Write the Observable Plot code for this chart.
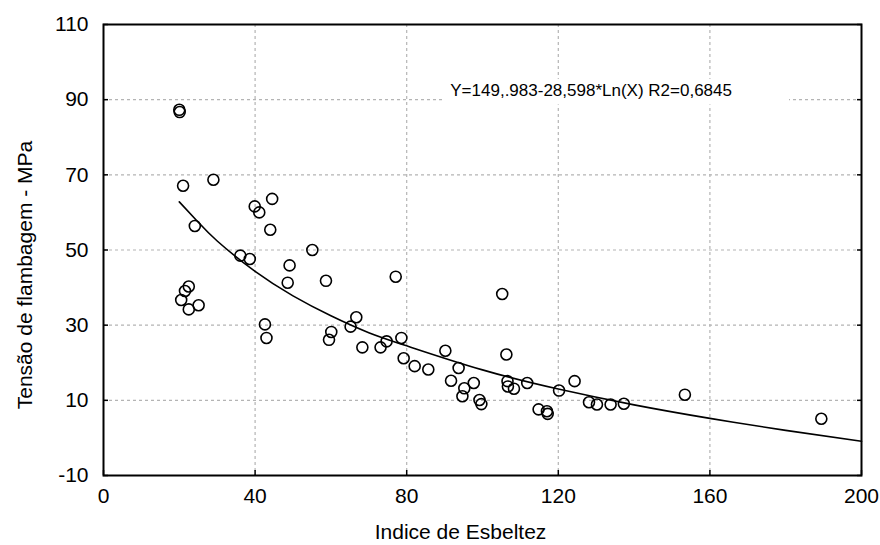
<!DOCTYPE html>
<html><head><meta charset="utf-8">
<script src="https://cdn.jsdelivr.net/npm/d3@7"></script>
<script src="https://cdn.jsdelivr.net/npm/@observablehq/plot@0.6"></script>
<style>
body{margin:0;background:#fff}
#chart svg{font-family:Arial,"Liberation Sans",sans-serif}
</style>
</head><body><div id="chart"></div>
<script>
// Scatter data: slenderness index (x) vs buckling stress in MPa (y)
const slenderness = [20.0,20.1,21.0,29.0,24.1,39.9,41.1,44.5,44.0,55.1,36.1,38.6,49.1,48.6,58.7,22.5,21.5,20.5,22.5,25.1,42.6,43.0,60.1,59.5,65.2,66.7,68.3,77.1,105.2,73.1,74.7,78.6,79.2,82.1,85.7,90.2,93.7,91.7,97.7,95.2,94.7,99.2,99.7,106.3,106.6,106.7,108.3,111.8,120.2,124.3,114.8,117.0,117.2,128.1,130.2,133.8,137.3,153.4,189.4];
const stress = [87.3,86.7,67.1,68.7,56.4,61.6,60.0,63.6,55.4,50.0,48.5,47.6,45.9,41.3,41.8,40.3,39.1,36.7,34.2,35.3,30.2,26.6,28.2,26.1,29.6,32.1,24.1,42.9,38.3,24.1,25.7,26.6,21.2,19.1,18.2,23.2,18.6,15.2,14.6,13.2,11.1,10.1,9.0,22.2,15.1,13.7,13.1,14.6,12.6,15.1,7.6,7.1,6.4,9.5,8.9,8.9,9.1,11.5,5.1];

// Fitted curve
const fitX = [20,25,30,40,50,60,70,80,100,120,140,160,180,200];
const fitY = [62.8,57.4,52.4,44.3,37.8,32.5,28.0,24.5,18.1,13.0,8.8,5.2,2.0,-0.9];

const xTicks = [0,40,80,120,160,200];
const yTicks = [-10,10,30,50,70,90,110];
const xGrid = [40,80,120,160];
const yGrid = [10,30,50,70,90];

const xTitle = "Indice de Esbeltez";
const yTitle = "Tensão de flambagem - MPa";
const equationText = "Y=149,.983-28,598*Ln(X) R2=0,6845";
const equationAnchor = [{x: 91.5, y: 92.4}];
const equationBox = [{x1: 90, x2: 181, y1: 88.6, y2: 95.4}];

const points = slenderness.map((x, i) => ({x, y: stress[i]}));
const fit = fitX.map((x, i) => ({x, y: fitY[i]}));

const chart = Plot.plot({
  width: 880,
  height: 545,
  marginLeft: 103,
  marginRight: 19,
  marginTop: 24,
  marginBottom: 70,
  style: {fontSize: "21px", fontFamily: "Arial, 'Liberation Sans', sans-serif", color: "#000", background: "#fff"},
  x: {domain: [0, 200]},
  y: {domain: [-10, 110]},
  marks: [
    Plot.ruleX(xGrid, {stroke: "#b4b4b4", strokeDasharray: "3,3", strokeWidth: 1.2}),
    Plot.ruleY(yGrid, {stroke: "#b4b4b4", strokeDasharray: "3,3", strokeWidth: 1.2}),
    Plot.rect(equationBox, {x1: "x1", x2: "x2", y1: "y1", y2: "y2", fill: "white"}),
    Plot.text(equationAnchor, {x: "x", y: "y", text: () => equationText, textAnchor: "start", fontSize: 17, fill: "black"}),
    Plot.line(fit, {x: "x", y: "y", curve: "natural", stroke: "black", strokeWidth: 1.6}),
    Plot.dot(points, {x: "x", y: "y", r: 5.5, stroke: "black", strokeWidth: 1.6, fill: "none"}),
    Plot.axisX({ticks: xTicks, tickSize: 0, tickPadding: 13, label: null, tickFormat: d => String(d)}),
    Plot.axisY({ticks: yTicks, tickSize: 0, tickPadding: 15, label: null, tickFormat: d => String(d)}),
    Plot.axisY({anchor: "left", ticks: yTicks, tickSize: -5, tickFormat: () => "", label: null, strokeWidth: 1.5}),
    Plot.axisY({anchor: "right", ticks: yTicks, tickSize: -5, tickFormat: () => "", label: null, strokeWidth: 1.5}),
    Plot.axisX({anchor: "bottom", ticks: xTicks, tickSize: -5, tickFormat: () => "", label: null, strokeWidth: 1.5}),
    Plot.frame({stroke: "black", strokeWidth: 2}),
    Plot.text([xTitle], {frameAnchor: "bottom", textAnchor: "middle", lineAnchor: "middle", dy: 57, dx: -22, fontSize: 21, fill: "black"}),
    Plot.text([yTitle], {frameAnchor: "left", textAnchor: "middle", lineAnchor: "middle", rotate: -90, dx: -78, dy: 25, fontSize: 21, fill: "black"})
  ]
});
document.getElementById("chart").appendChild(chart);
</script>
</body></html>
